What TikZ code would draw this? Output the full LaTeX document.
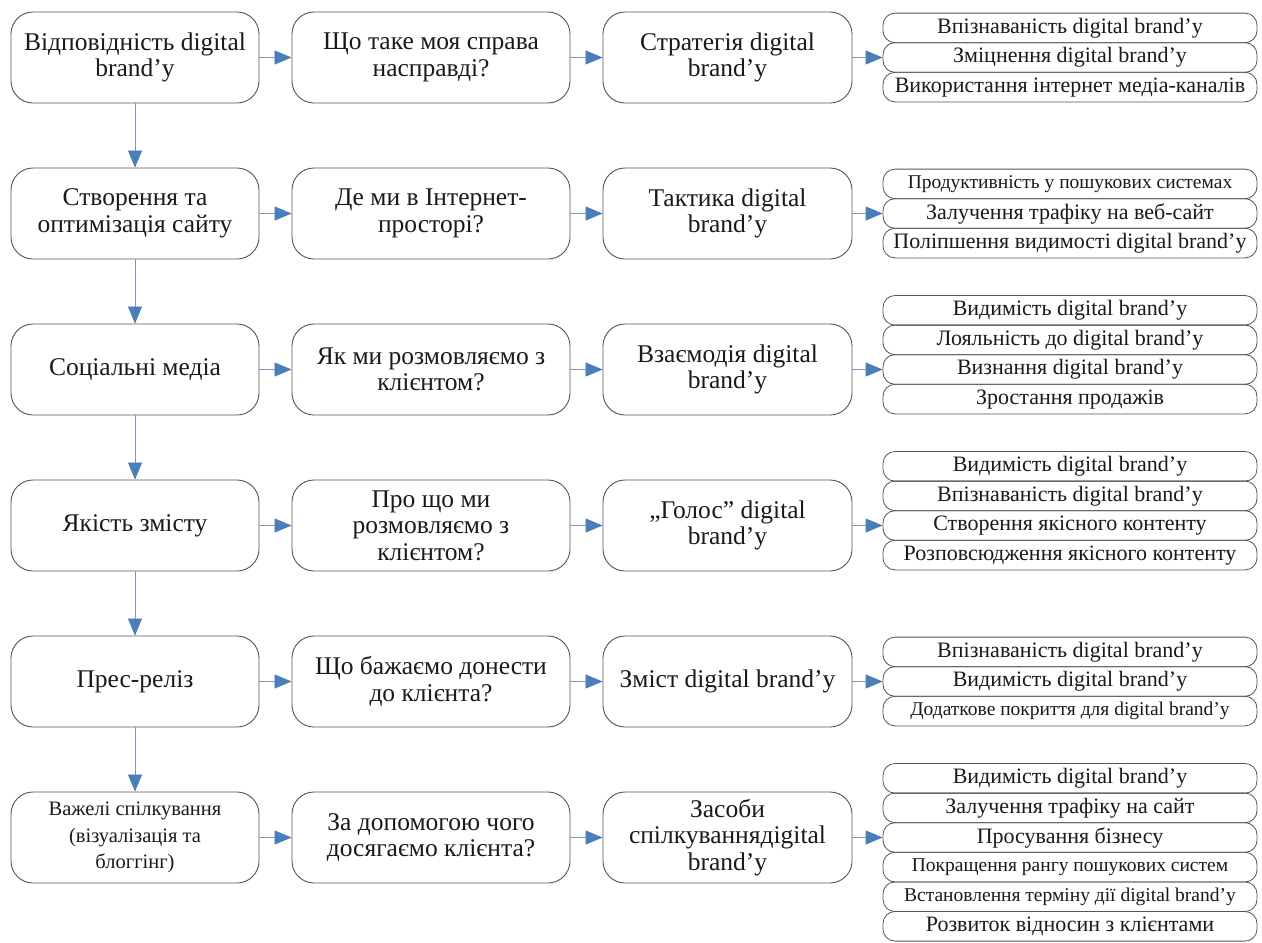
\documentclass[tikz,border=0pt]{standalone}
\usepackage{fontspec}
\setmainfont{Liberation Serif}
\usetikzlibrary{arrows.meta}
\definecolor{arrowblue}{HTML}{4A7EBB}
\definecolor{connline}{HTML}{7F97B8}
\definecolor{boxline}{HTML}{555555}
\definecolor{txt}{HTML}{1A1A1A}
\begin{document}
\begin{tikzpicture}[x=1pt,y=-1pt,
  every node/.style={text=txt},
  mainbox/.style={draw=boxline, line width=0.9pt, rounded corners=22pt, minimum height=91pt, inner sep=0pt, align=center, font=\fontsize{25.5}{26.5}\selectfont},
  colA/.style={mainbox, minimum width=248pt},
  colB/.style={mainbox, minimum width=278pt},
  colC/.style={mainbox, minimum width=249pt},
  litem/.style={draw=boxline, line width=0.8pt, rounded corners=12pt, minimum width=374pt, minimum height=29.6pt, inner sep=0pt, font=\fontsize{22}{22}\selectfont},
  lsmall/.style={litem, font=\fontsize{19.5}{19.5}\selectfont},
  conn/.style={draw=connline, line width=0.8pt, -{Triangle[length=17pt,width=14pt,fill=arrowblue,color=arrowblue]}}
]
\path[use as bounding box, fill=white] (0,0) rectangle (1262,943);

% column 1
\node[colA] (a1) at (135,57.5) {Відповідність digital\\brand’y};
\node[colA] (a2) at (135,213.5) {Створення та\\оптимізація сайту};
\node[colA] (a3) at (135,369.5) {Соціальні медіа};
\node[colA] (a4) at (135,525.5) {Якість змісту};
\node[colA] (a5) at (135,681.5) {Прес-реліз};
\node[colA, font=\fontsize{20.5}{26.5}\selectfont] (a6) at (135,837.5) {Важелі спілкування\\(візуалізація та\\блоггінг)};

% column 2
\node[colB] (b1) at (431,57.5) {Що таке моя справа\\насправді?};
\node[colB] (b2) at (431,213.5) {Де ми в Інтернет-\\просторі?};
\node[colB] (b3) at (431,369.5) {Як ми розмовляємо з\\клієнтом?};
\node[colB] (b4) at (431,525.5) {Про що ми\\розмовляємо з\\клієнтом?};
\node[colB] (b5) at (431,681.5) {Що бажаємо донести\\до клієнта?};
\node[colB] (b6) at (431,837.5) {За допомогою чого\\досягаємо клієнта?};

% column 3
\node[colC] (c1) at (727.5,57.5) {Стратегія digital\\brand’y};
\node[colC] (c2) at (727.5,213.5) {Тактика digital\\brand’y};
\node[colC] (c3) at (727.5,369.5) {Взаємодія digital\\brand’y};
\node[colC] (c4) at (727.5,525.5) {„Голос” digital\\brand’y};
\node[colC] (c5) at (727.5,681.5) {Зміст digital brand’y};
\node[colC] (c6) at (727.5,837.5) {Засоби\\спілкуваннядigital\\brand’y};

% lists
\node[litem] (l11) at (1070,27.9) {Впізнаваність digital brand’y};
\node[litem] (l12) at (1070,57.5) {Зміцнення digital brand’y};
\node[litem] (l13) at (1070,87.1) {Використання інтернет медіа-каналів};

\node[lsmall] (l21) at (1070,183.9) {Продуктивність у пошукових системах};
\node[litem] (l22) at (1070,213.5) {Залучення трафіку на веб-сайт};
\node[litem] (l23) at (1070,243.1) {Поліпшення видимості digital brand’y};

\node[litem] (l31) at (1070,310.3) {Видимість digital brand’y};
\node[litem] (l32) at (1070,339.9) {Лояльність до digital brand’y};
\node[litem] (l33) at (1070,369.5) {Визнання digital brand’y};
\node[litem] (l34) at (1070,399.1) {Зростання продажів};

\node[litem] (l41) at (1070,466.3) {Видимість digital brand’y};
\node[litem] (l42) at (1070,495.9) {Впізнаваність digital brand’y};
\node[litem] (l43) at (1070,525.5) {Створення якісного контенту};
\node[litem] (l44) at (1070,555.1) {Розповсюдження якісного контенту};

\node[litem] (l51) at (1070,651.9) {Впізнаваність digital brand’y};
\node[litem] (l52) at (1070,681.5) {Видимість digital brand’y};
\node[lsmall] (l53) at (1070,711.1) {Додаткове покриття для digital brand’y};

\node[litem] (l61) at (1070,778.3) {Видимість digital brand’y};
\node[litem] (l62) at (1070,807.9) {Залучення трафіку на сайт};
\node[litem] (l63) at (1070,837.5) {Просування бізнесу};
\node[lsmall] (l64) at (1070,867.1) {Покращення рангу пошукових систем};
\node[lsmall] (l65) at (1070,896.7) {Встановлення терміну дії digital brand’y};
\node[litem] (l66) at (1070,926.3) {Розвиток відносин з клієнтами};

% connectors
\draw[conn] (a1) -- (a2);
\draw[conn] (a2) -- (a3);
\draw[conn] (a3) -- (a4);
\draw[conn] (a4) -- (a5);
\draw[conn] (a5) -- (a6);

\draw[conn] (a1) -- (b1);
\draw[conn] (a2) -- (b2);
\draw[conn] (a3) -- (b3);
\draw[conn] (a4) -- (b4);
\draw[conn] (a5) -- (b5);
\draw[conn] (a6) -- (b6);

\draw[conn] (b1) -- (c1);
\draw[conn] (b2) -- (c2);
\draw[conn] (b3) -- (c3);
\draw[conn] (b4) -- (c4);
\draw[conn] (b5) -- (c5);
\draw[conn] (b6) -- (c6);

\draw[conn] (c1.east) -- (l12.west);
\draw[conn] (c2.east) -- (l22.west);
\draw[conn] (c3.east) -- (l33.west);
\draw[conn] (c4.east) -- (l43.west);
\draw[conn] (c5.east) -- (l52.west);
\draw[conn] (c6.east) -- (l63.west);
\end{tikzpicture}
\end{document}
